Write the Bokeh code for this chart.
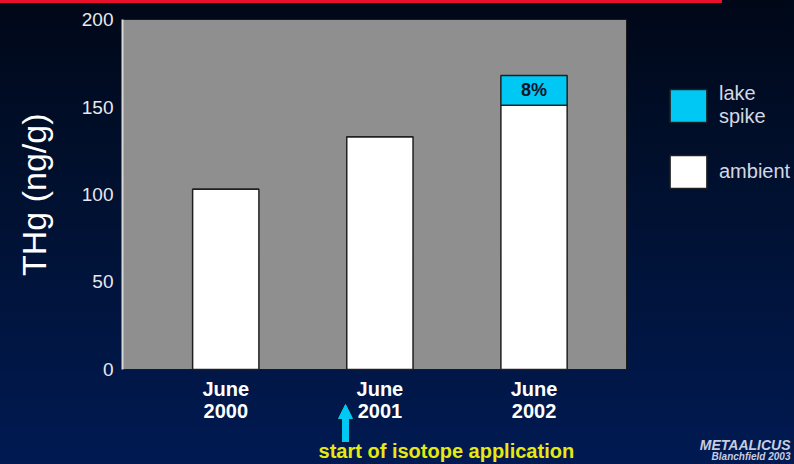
from bokeh.plotting import figure
from bokeh.models import (Range1d, Legend, LegendItem, Arrow, NormalHead,
                          ColumnDataSource, FixedTicker)
from bokeh.core.properties import value
from bokeh.embed import file_html
from bokeh.resources import INLINE

# ---- data ----
categories = ["June 2000", "June 2001", "June 2002"]
month_labels = ["June", "June", "June"]
year_labels = ["2000", "2001", "2002"]
ambient = [103, 133, 151]
lake_spike = [0, 0, 17]
spike_pct_labels = ["", "", "8%"]
y_ticks = [0, 50, 100, 150, 200]
series_names = ["lake\nspike", "ambient"]

W, H = 794, 464
FONT = "Liberation Sans"
Y_MIN, Y_MAX = 0, 200              # value axis extent (grey plot area)
X_AREA = (0.33, 3.6)               # grey plot area, horizontal extent

xs = [i + 1 for i in range(len(categories))]
spike_bottom = ambient
spike_top = [a + s for a, s in zip(ambient, lake_spike)]
src = ColumnDataSource(dict(
    x=xs, ambient=ambient, sb=spike_bottom, st=spike_top,
    ly=[(b + t) / 2 for b, t in zip(spike_bottom, spike_top)],
    lbl=spike_pct_labels,
))

# frame covers everything right of the y axis; the grey area is drawn inside it
p = figure(width=W, height=H, output_backend="svg", toolbar_location=None,
           x_range=Range1d(0.33, 4.69), y_range=Range1d(-54.29, 210.86),
           min_border_left=122, min_border_right=0,
           min_border_top=0, min_border_bottom=0)

p.border_fill_alpha = 0
p.background_fill_alpha = 0
p.styles = {
    "background": "linear-gradient(#e8102a, #e8102a) 0 0 / 722px 3px no-repeat, "
                  "linear-gradient(to bottom, #000818 0%, #00102f 40%, #001a52 100%)"
}
p.outline_line_alpha = 0
p.xgrid.visible = False
p.ygrid.visible = False
p.xaxis.visible = False

# grey plot area
p.quad(left=X_AREA[0], right=X_AREA[1], bottom=Y_MIN, top=Y_MAX,
       fill_color="#8f8f8f", line_color="#1a1a1a", line_width=1)

ax = p.yaxis[0]
ax.ticker = FixedTicker(ticks=y_ticks)
ax.bounds = (Y_MIN, Y_MAX)
ax.axis_line_color = "#d8d8d8"
ax.axis_line_width = 2
ax.major_tick_out = 0
ax.major_tick_in = 0
ax.minor_tick_out = 0
ax.minor_tick_in = 0
ax.major_label_standoff = 9
ax.major_label_text_color = "#e8e8f0"
ax.major_label_text_font = FONT
ax.major_label_text_font_size = "19px"
# leading no-break spaces move the centred label up to the middle of the 0-200 span
ax.axis_label = "\u00a0" * 8 + "THg (ng/g)"
ax.axis_label_text_color = "white"
ax.axis_label_text_font = FONT
ax.axis_label_text_font_style = "normal"
ax.axis_label_text_font_size = "34px"
ax.axis_label_standoff = 26

r_amb = p.vbar(x="x", bottom=0, top="ambient", width=0.43, source=src,
               fill_color="white", line_color="#202020", line_width=1.5)
r_spk = p.vbar(x="x", bottom="sb", top="st", width=0.43, source=src,
               fill_color="#00c8f5", line_color="#202020", line_width=1.5)
p.text(x="x", y="ly", text="lbl", source=src, text_align="center",
       text_baseline="middle", text_color="#0a1428",
       text_font=value(FONT), text_font_style="bold", text_font_size="18px")

legend = Legend(items=[LegendItem(label=series_names[0], renderers=[r_spk]),
                       LegendItem(label=series_names[1], renderers=[r_amb])],
                location=(543, 272), padding=0, margin=0, spacing=23,
                glyph_width=46, glyph_height=41, label_standoff=8,
                label_text_font=FONT, label_text_font_size="20px",
                label_text_color="#d4d8e4", background_fill_alpha=0,
                border_line_alpha=0)
p.add_layout(legend, "center")

# category labels under the bars
cat_src = ColumnDataSource(dict(
    x=xs, m=month_labels, yr=year_labels,
    ym=[-11.4] * len(xs), yy=[-24.0] * len(xs)))
for col, ycol in (("m", "ym"), ("yr", "yy")):
    p.text(x="x", y=ycol, text=col, source=cat_src, text_align="center",
           text_baseline="middle", text_color="white", text_font=value(FONT),
           text_font_style="bold", text_font_size="20px")

# arrow marking start of isotope application
arrow_x = 1.777
p.add_layout(Arrow(x_start=arrow_x, y_start=-42.0, x_end=arrow_x, y_end=-19.5,
                   line_color="#0a1a30", line_width=10,
                   end=NormalHead(size=17, fill_color="#0a1a30", line_color="#0a1a30")))
p.add_layout(Arrow(x_start=arrow_x, y_start=-41.4, x_end=arrow_x, y_end=-20.0,
                   line_color="#00c8f5", line_width=7,
                   end=NormalHead(size=14, fill_color="#00c8f5", line_color="#00c8f5")))
p.text(x=[1.602], y=[-46.6], text=["start of isotope application"],
       text_align="left", text_baseline="middle", text_color="#e8e812",
       text_font=value(FONT), text_font_style="bold", text_font_size="20px")

p.text(x=[4.664, 4.664], y=[-43.4, -49.7], text=["METAALICUS", "Blanchfield 2003"],
       text_align="right", text_baseline="middle", text_color="#c8cce0",
       text_font=value(FONT), text_font_style="bold italic",
       text_font_size=["14px", "10px"])

open("out.html", "w").write(file_html(p, INLINE))
